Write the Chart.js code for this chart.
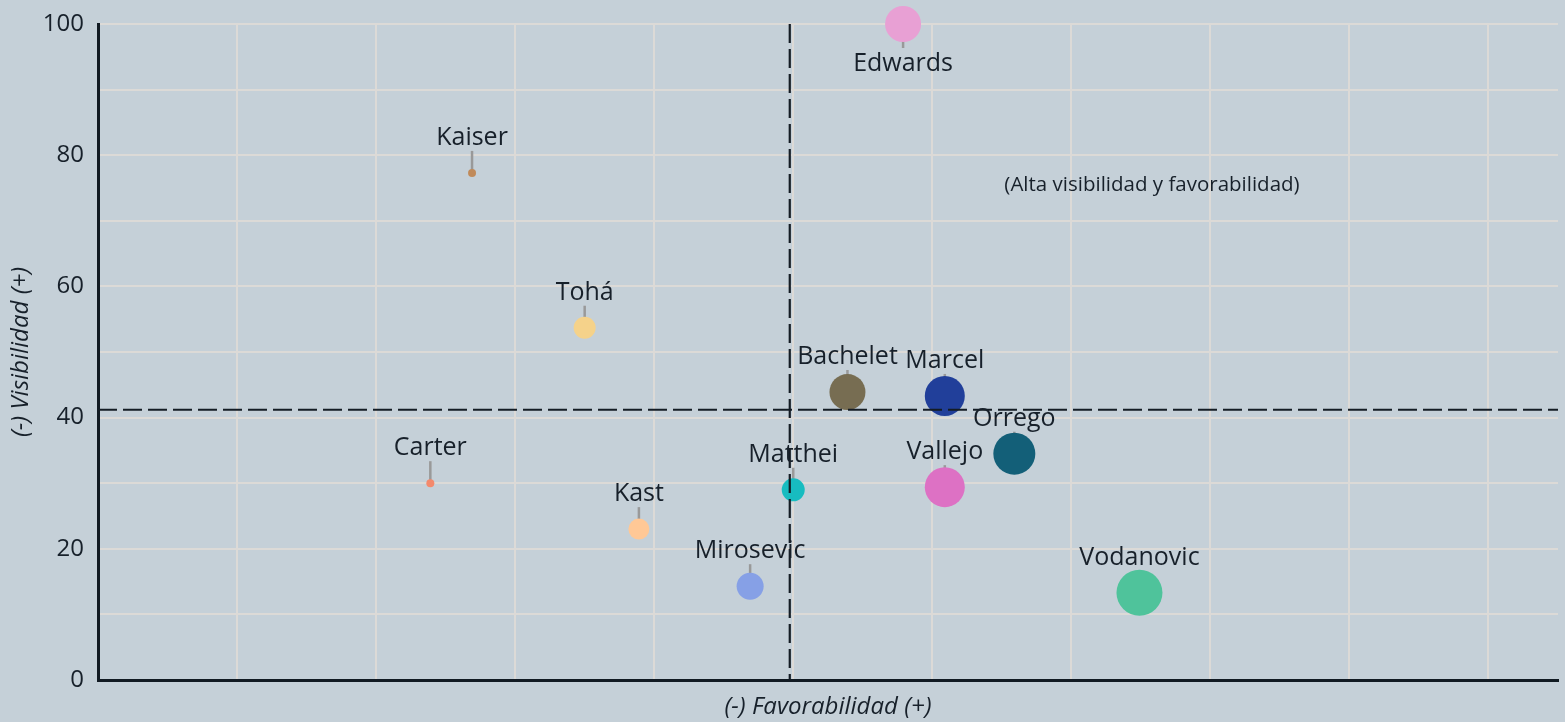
<!DOCTYPE html>
<html>
<head>
<meta charset="utf-8">
<script src="https://cdn.jsdelivr.net/npm/chart.js@4.4.1/dist/chart.umd.min.js"></script>
<style>
  html, body { margin: 0; padding: 0; background: #c5d0d8; }
  #wrap { width: 1565px; height: 722px; position: relative; }
</style>
</head>
<body>
<div id="wrap"><canvas id="chart"></canvas></div>
<script>
// Candidates: favorability (x), visibility (y), bubble radius
const names = ['Edwards', 'Kaiser', 'Tohá', 'Bachelet', 'Marcel', 'Orrego', 'Vallejo', 'Matthei', 'Carter', 'Kast', 'Mirosevic', 'Vodanovic'];
const favorabilidad = [57.9, 26.9, 35.0, 53.9, 60.9, 65.9, 60.9, 50.0, 23.9, 38.9, 46.9, 74.9];
const visibilidad = [100, 77.3, 53.7, 43.9, 43.3, 34.5, 29.4, 29.0, 30.0, 23.0, 14.3, 13.3];
const sizes = [18, 4, 11, 18, 20, 21, 20, 11.5, 4, 10.5, 13.5, 23];
const colors = ['#e8a0d4', '#c08a5a', '#f5d28a', '#776d52', '#213f9a', '#135f78', '#dd71c4', '#17bcc0', '#f4896c', '#ffc896', '#86a0e6', '#4fc39b'];
const labelBelow = ['Edwards'];

// reference lines (averages) and quadrant note
const refX = 49.75;
const refY = 41.2;
const noteText = '(Alta visibilidad y favorabilidad)';
const noteX = 75.8;
const noteY = 75.4;

const textColor = '#17202a';
const fontFamily = "'Open Sans', 'Noto Sans', sans-serif";

const points = names.map((n, i) => ({ x: favorabilidad[i], y: visibilidad[i], r: sizes[i] }));

const overlayPlugin = {
    id: 'overlay',
    beforeDatasetsDraw(chart) {
        // leader lines behind bubbles
        const ctx = chart.ctx;
        const meta = chart.getDatasetMeta(0);
        ctx.save();
        ctx.strokeStyle = '#999999';
        ctx.lineWidth = 2.5;
        meta.data.forEach((pt, i) => {
            const below = labelBelow.includes(names[i]);
            ctx.beginPath();
            ctx.moveTo(pt.x, pt.y);
            ctx.lineTo(pt.x, below ? pt.y + 24 : pt.y - 22);
            ctx.stroke();
        });
        ctx.restore();
    },
    afterDatasetsDraw(chart) {
        const ctx = chart.ctx;
        const area = chart.chartArea;
        const xs = chart.scales.x;
        const ys = chart.scales.y;

        // dashed reference lines
        ctx.save();
        ctx.strokeStyle = '#141c24';
        ctx.lineWidth = 2.2;
        ctx.setLineDash([19, 6]);
        const px = xs.getPixelForValue(refX);
        ctx.beginPath();
        ctx.moveTo(px, area.top);
        ctx.lineTo(px, area.bottom);
        ctx.stroke();
        const py = ys.getPixelForValue(refY);
        ctx.beginPath();
        ctx.moveTo(area.left, py);
        ctx.lineTo(area.right, py);
        ctx.stroke();
        ctx.restore();

        // quadrant note
        ctx.save();
        ctx.fillStyle = textColor;
        ctx.font = '20.5px ' + fontFamily;
        ctx.textAlign = 'center';
        ctx.textBaseline = 'middle';
        ctx.fillText(noteText, xs.getPixelForValue(noteX), ys.getPixelForValue(noteY));

        // candidate labels
        ctx.font = '25px ' + fontFamily;
        const meta = chart.getDatasetMeta(0);
        meta.data.forEach((pt, i) => {
            const below = labelBelow.includes(names[i]);
            ctx.fillText(names[i], pt.x, below ? pt.y + 40 : pt.y - 35);
        });
        ctx.restore();
    }
};

const ctx = document.getElementById('chart').getContext('2d');
window.bubbleChart = new Chart(ctx, {
    type: 'bubble',
    data: {
        datasets: [{
            label: 'Candidatos',
            data: points,
            backgroundColor: colors,
            borderWidth: 0,
            hoverRadius: 0,
            clip: false
        }]
    },
    options: {
        responsive: true,
        maintainAspectRatio: false,
        animation: false,
        events: [],
        layout: { autoPadding: false, padding: { top: 24, right: 7, bottom: 0, left: 0 } },
        plugins: {
            legend: { display: false },
            tooltip: { enabled: false }
        },
        scales: {
            x: {
                type: 'linear',
                min: 0,
                max: 105,
                afterFit: scale => { scale.height = 42; },
                ticks: { display: false, stepSize: 10, includeBounds: false },
                grid: { color: '#dcdad7', lineWidth: 2, drawTicks: false },
                border: { color: '#111a22', width: 3 },
                title: {
                    display: true,
                    text: '(-) Favorabilidad (+)',
                    color: textColor,
                    font: { family: fontFamily, size: 24, style: 'italic' },
                    padding: { top: 0, bottom: 0 }
                }
            },
            y: {
                type: 'linear',
                min: 0,
                max: 100,
                afterFit: scale => {
                    scale.width = 98;
                    scale.paddingTop = 0;
                    scale.paddingBottom = 0;
                },
                ticks: {
                    stepSize: 10,
                    padding: 14,
                    color: textColor,
                    font: { family: fontFamily, size: 24 },
                    callback: v => (v % 20 === 0 ? v : '')
                },
                grid: { color: '#dcdad7', lineWidth: 2, drawTicks: false },
                border: { color: '#111a22', width: 3 },
                title: {
                    display: true,
                    text: '(-) Visibilidad (+)',
                    color: textColor,
                    font: { family: fontFamily, size: 24, style: 'italic' },
                    padding: { top: 7, bottom: 0 }
                }
            }
        }
    },
    plugins: [overlayPlugin]
});
</script>
</body>
</html>
